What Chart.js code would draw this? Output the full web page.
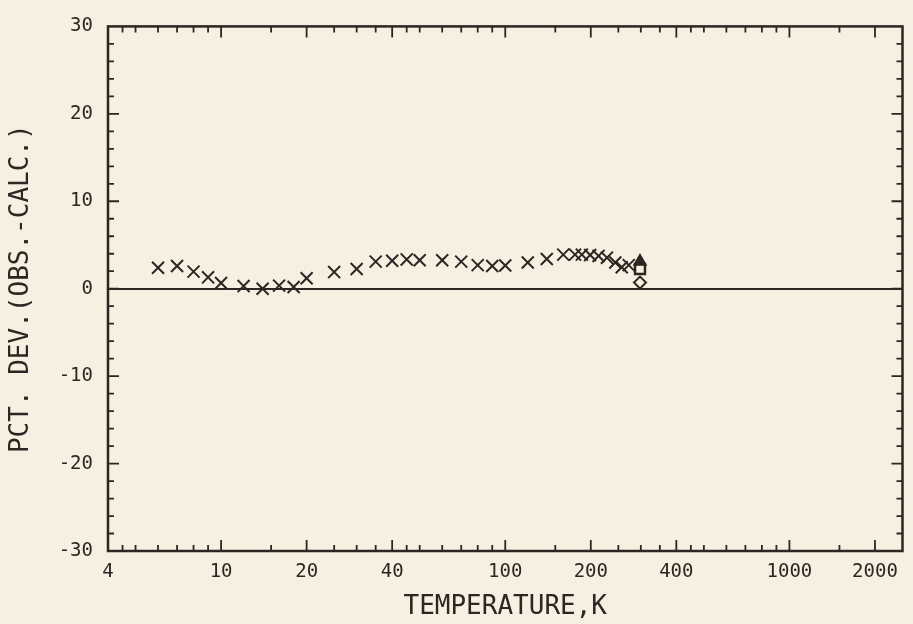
<!DOCTYPE html>
<html>
<head>
<meta charset="utf-8">
<script src="https://cdn.jsdelivr.net/npm/chart.js@4/dist/chart.umd.min.js"></script>
<style>
  html, body { margin: 0; padding: 0; background: #f5f0e2; }
  #wrap { width: 913px; height: 624px; }
</style>
</head>
<body>
<div id="wrap"><canvas id="c" width="913" height="624"></canvas></div>
<script>
// ---- data ----
const crossTemps = [6, 7, 8, 9, 10, 12, 14, 16, 18, 20, 25, 30, 35, 40, 45, 50, 60, 70, 80, 90, 100, 120, 140, 160, 176, 186, 199, 213, 228, 244, 257, 272];
const crossDevs  = [2.4, 2.6, 1.95, 1.3, 0.65, 0.3, 0.0, 0.35, 0.2, 1.2, 1.9, 2.25, 3.1, 3.2, 3.35, 3.25, 3.25, 3.1, 2.7, 2.6, 2.65, 3.0, 3.4, 3.9, 3.9, 3.9, 3.85, 3.75, 3.55, 3.0, 2.45, 2.7];
const triTemps = [298];
const triDevs  = [3.1];
const sqTemps  = [298];
const sqDevs   = [2.25];
const diaTemps = [298];
const diaDevs  = [0.7];
const xLabelTicks = [4, 10, 20, 40, 100, 200, 400, 1000, 2000];
const xMinorTicks = [4.5, 5, 6, 7, 8, 9, 15, 25, 30, 35, 45, 50, 60, 70, 80, 90, 150, 250, 300, 350, 450, 500, 600, 700, 800, 900, 1500];
const yMajorTicks = [-30, -20, -10, 0, 10, 20, 30];

const INK = '#2e2622';
const toPts = (xs, ys) => xs.map((x, i) => ({x: x, y: ys[i]}));

const framePlugin = {
  id: 'frame',
  afterDatasetsDraw(chart) {
    const {ctx, chartArea: a, scales: {x, y}} = chart;
    ctx.save();
    ctx.strokeStyle = INK;
    ctx.lineWidth = 2.5;
    ctx.strokeRect(a.left, a.top, a.right - a.left, a.bottom - a.top);
    ctx.lineWidth = 1.8;
    ctx.beginPath();
    const xt = (v, len) => {
      const px = x.getPixelForValue(v);
      ctx.moveTo(px, a.bottom); ctx.lineTo(px, a.bottom - len);
      ctx.moveTo(px, a.top); ctx.lineTo(px, a.top + len);
    };
    xLabelTicks.forEach(v => { if (v > 4) xt(v, 11); });
    xMinorTicks.forEach(v => xt(v, 6));
    for (let v = -28; v < 30; v += 2) {
      const py = y.getPixelForValue(v);
      const len = (v % 10 === 0) ? 11 : 6;
      ctx.moveTo(a.left, py); ctx.lineTo(a.left + len, py);
      ctx.moveTo(a.right, py); ctx.lineTo(a.right - len, py);
    }
    ctx.stroke();
    ctx.restore();
  }
};

Chart.defaults.font.family = "'DejaVu Sans Mono', monospace";
Chart.defaults.color = INK;

new Chart(document.getElementById('c'), {
  type: 'scatter',
  data: {
    datasets: [
      { data: toPts(crossTemps, crossDevs), pointStyle: 'crossRot', radius: 8.5, borderColor: INK, borderWidth: 2, backgroundColor: INK },
      { data: toPts(triTemps, triDevs), pointStyle: 'triangle', radius: 7, borderColor: INK, borderWidth: 1.5, backgroundColor: INK },
      { data: toPts(sqTemps, sqDevs), pointStyle: 'rect', radius: 7, borderColor: INK, borderWidth: 2.5, backgroundColor: 'rgba(0,0,0,0)' },
      { data: toPts(diaTemps, diaDevs), pointStyle: 'rectRot', radius: 6, borderColor: INK, borderWidth: 2, backgroundColor: 'rgba(0,0,0,0)' }
    ]
  },
  options: {
    responsive: false,
    animation: false,
    layout: { padding: { left: 0, right: 7, top: 17, bottom: 0 } },
    plugins: { legend: { display: false }, tooltip: { enabled: false } },
    scales: {
      x: {
        type: 'logarithmic',
        min: 4, max: 2500,
        afterBuildTicks: s => { s.ticks = xLabelTicks.map(v => ({value: v})); },
        afterFit: s => { s.height = 73; },
        ticks: { autoSkip: false, maxRotation: 0, padding: 10, font: { size: 19 }, color: INK,
                 callback: v => String(v) },
        grid: { display: false, drawTicks: false },
        border: { display: false },
        title: { display: true, text: 'TEMPERATURE,K', font: { size: 26, lineHeight: 1.2 }, color: INK, padding: { top: 0, bottom: 1 } }
      },
      y: {
        min: -30, max: 30,
        afterBuildTicks: s => { s.ticks = yMajorTicks.map(v => ({value: v})); },
        afterFit: s => { s.width = 108; },
        ticks: { padding: 15, font: { size: 19 }, color: INK },
        grid: { drawTicks: false, lineWidth: 2, color: c => (c.tick && c.tick.value === 0) ? INK : 'rgba(0,0,0,0)' },
        border: { display: false },
        title: { display: true, text: 'PCT. DEV.(OBS.-CALC.)', font: { size: 26, lineHeight: 1.2 }, color: INK, padding: { top: 6, bottom: 0 } }
      }
    }
  },
  plugins: [framePlugin]
});
</script>
</body>
</html>
